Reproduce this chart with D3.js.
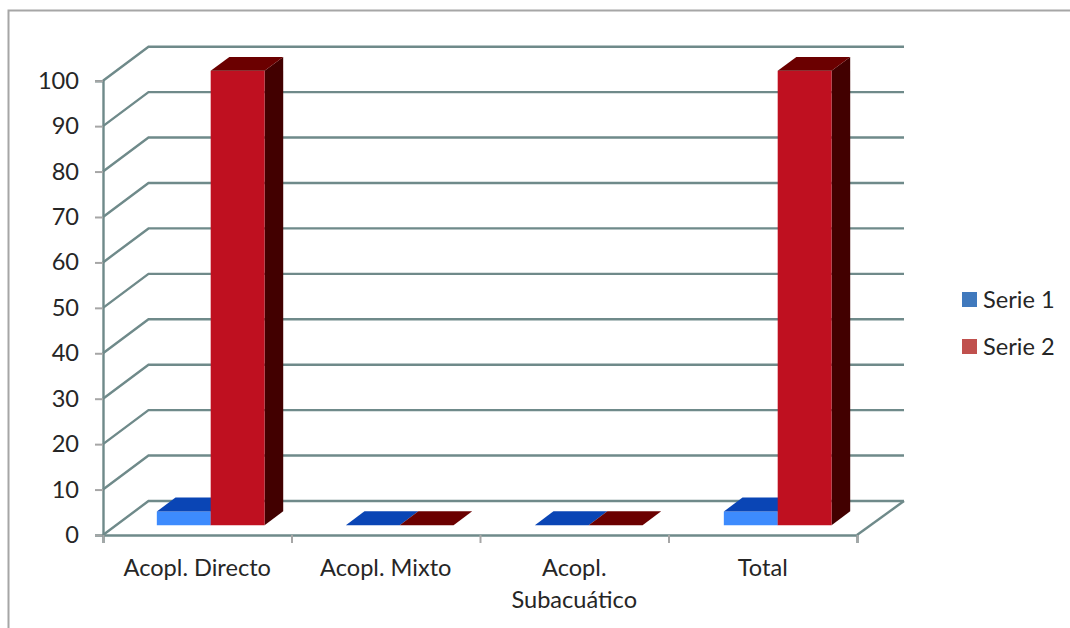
<!DOCTYPE html>
<html>
<head>
<meta charset="utf-8">
<script src="https://cdn.jsdelivr.net/npm/d3@7"></script>
<style>
  html, body { margin: 0; padding: 0; background: #fff; }
  svg { display: block; }
</style>
</head>
<body>
<script>
const width = 1070;
const height = 628;

const categories = ['Acopl. Directo', 'Acopl. Mixto', 'Acopl. Subacuático', 'Total'];
const serie1 = [3, 0, 0, 3];
const serie2 = [100, 0, 0, 100];
const yTicks = [0, 10, 20, 30, 40, 50, 60, 70, 80, 90, 100];

const seriesNames = ['Serie 1', 'Serie 2'];
const legendColors = ['#4079bd', '#c0504d'];

// Front, top and side faces for each series.
const faces = [
  { front: '#3d8bfd', top: '#0a45b5', side: '#06307f' },
  { front: '#bf1020', top: '#6b0000', side: '#420000' }
];

let svg = d3
  .select('body')
  .append('svg')
  .attr('width', width)
  .attr('height', height);

// Frame around the chart area.
svg.append('path')
  .attr('d', `M8.5,${height} V10.5 H${width}`)
  .attr('fill', 'none')
  .attr('stroke', '#a6a6a6')
  .attr('stroke-width', 2);

let xScale = d3.scaleBand().domain(categories).range([103, 857]);
let barBand = d3.scaleBand().domain(categories).range([103, 859]);
let yScale = d3.scaleLinear().domain([0, 100]).range([535, 80.7]);

// Depth goes from the front of the box (0) to the back wall (1).
let depthX = d3.scaleLinear().domain([0, 1]).range([0, 45.5]);
let depthY = d3.scaleLinear().domain([0, 1]).range([0, -34]);

function project(x, value, depth) {
  return [x + depthX(depth), yScale(value) + depthY(depth)];
}

function face(points) {
  return 'M' + points.map((p) => p.join(',')).join('L') + 'Z';
}

const gridColor = '#6f8a8a';
const [x0, x1] = xScale.range();
const backRight = x1 + 1.5;

// Side wall and back wall gridlines.
svg.append('g')
  .selectAll('path')
  .data(yTicks)
  .join('path')
  .attr('d', (d) => {
    let a = project(x0, d, 0);
    let b = project(x0, d, 1);
    let c = project(backRight, d, 1);
    return `M${a}L${b}L${c}`;
  })
  .attr('fill', 'none')
  .attr('stroke', gridColor)
  .attr('stroke-width', 2.4);

// Right edge of the floor.
svg.append('path')
  .attr('d', `M${project(x1, 0, 0)}L${project(backRight, 0, 1)}`)
  .attr('stroke', gridColor)
  .attr('stroke-width', 2.4);

// Value axis.
let leftAxis = d3.axisLeft(yScale).tickValues(yTicks).tickSize(8).tickPadding(16);
let leftContainer = svg.append('g')
  .attr('transform', `translate(${x0}, 0)`)
  .call(leftAxis);
leftContainer.select('.domain').attr('stroke', gridColor).attr('stroke-width', 2.4);
leftContainer.selectAll('.tick line').attr('stroke', '#a6a6a6').attr('stroke-width', 2);

// Category axis: ticks sit on the band edges, so they are drawn from the band step.
let tickScale = d3.scaleLinear().domain([0, categories.length]).range([x0, x1]);
let bottomAxis = d3.axisBottom(tickScale).ticks(categories.length).tickSize(8).tickFormat('');
let bottomContainer = svg.append('g')
  .attr('transform', `translate(0, ${yScale(0)})`)
  .call(bottomAxis);
bottomContainer.select('.domain').attr('stroke', gridColor).attr('stroke-width', 2.4);
bottomContainer.selectAll('.tick line').attr('stroke', '#a6a6a6').attr('stroke-width', 2);

// Category labels, wrapped on the last word when too long.
let labels = svg.append('g')
  .selectAll('text')
  .data(categories)
  .join('text')
  .attr('text-anchor', 'middle')
  .attr('y', 576);
labels.each(function (d) {
  let lines = d.length > 14 ? d.split(' ') : [d];
  d3.select(this)
    .selectAll('tspan')
    .data(lines)
    .join('tspan')
    .attr('x', xScale(d) + xScale.bandwidth() / 2)
    .attr('dy', (l, i) => (i ? 32 : 0))
    .text((l) => l);
});

// Bars sit between these depths, each one a fixed share of the band wide.
const barFront = 0.29;
const barBack = 0.7;
const barShare = 0.285;

function drawBar(g, category, value, index) {
  let x = barBand(category) + barBand.bandwidth() / 2 + (index - 1) * barShare * barBand.bandwidth();
  let w = barShare * barBand.bandwidth();
  let c = faces[index];
  if (value > 0) {
    g.append('path')
      .attr('fill', c.side)
      .attr('d', face([
        project(x + w, 0, barFront), project(x + w, 0, barBack),
        project(x + w, value, barBack), project(x + w, value, barFront)
      ]));
    g.append('path')
      .attr('fill', c.front)
      .attr('d', face([
        project(x, 0, barFront), project(x + w, 0, barFront),
        project(x + w, value, barFront), project(x, value, barFront)
      ]));
  }
  g.append('path')
    .attr('fill', c.top)
    .attr('d', face([
      project(x, value, barFront), project(x + w, value, barFront),
      project(x + w, value, barBack), project(x, value, barBack)
    ]));
}

let bars = svg.append('g');
categories.forEach((c, i) => {
  drawBar(bars, c, serie1[i], 0);
  drawBar(bars, c, serie2[i], 1);
});

// Legend.
let legend = svg.append('g')
  .selectAll('g')
  .data(seriesNames)
  .join('g')
  .attr('transform', (d, i) => `translate(962, ${292 + i * 47})`);
legend.append('rect')
  .attr('width', 15)
  .attr('height', 15)
  .attr('fill', (d, i) => legendColors[i]);
legend.append('text')
  .attr('x', 21)
  .attr('y', 16)
  .text((d) => d);

svg.selectAll('text')
  .style('font-family', 'Lato, "Open Sans", sans-serif')
  .style('font-size', '23.6px')
  .style('fill', '#262626');
</script>
</body>
</html>
